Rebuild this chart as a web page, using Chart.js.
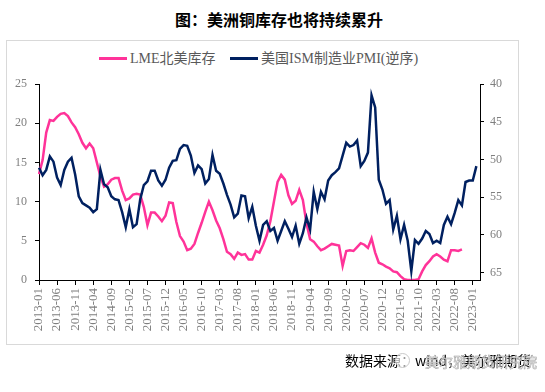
<!DOCTYPE html>
<html>
<head>
<meta charset="utf-8">
<script src="https://cdn.jsdelivr.net/npm/chart.js@4.4.1/dist/chart.umd.min.js"></script>
<style>
  body { margin: 0; width: 545px; height: 392px; background: #fff; position: relative; overflow: hidden; font-family: "Noto Sans CJK SC", sans-serif; }
  #title { position: absolute; left: 175px; top: 9px; font-size: 16px; line-height: 20px; font-weight: bold; color: #000; white-space: nowrap; }
  #frame { position: absolute; left: 6px; top: 40px; width: 511px; height: 303px; border: 1px solid #d9d9d9; }
  .leg { position: absolute; top: 50px; height: 18px; line-height: 18px; font-size: 14px; font-family: "Liberation Serif", "Noto Sans CJK SC", serif; color: #595959; white-space: nowrap; }
  .leg i { display: inline-block; width: 28px; height: 3px; vertical-align: middle; margin-right: 3px; position: relative; top: -1px; }
  #source { position: absolute; left: 345px; top: 351px; font-size: 14px; line-height: 18px; color: #000; white-space: nowrap; }
  #mark { position: absolute; left: 425px; top: 352px; font-size: 14px; line-height: 18px; color: rgba(255,255,255,0.75); -webkit-text-stroke: 0.5px #9a9a9a; white-space: nowrap; }
  #logo { position: absolute; left: 395px; top: 353px; width: 13px; height: 13px; border: 1px solid #c8c8c8; border-radius: 50%; background: rgba(255,255,255,0.6); }
  #c { position: absolute; left: 0; top: 0; }
</style>
</head>
<body>
<div id="title">图：美洲铜库存也将持续累升</div>
<div id="frame"></div>
<div class="leg" style="left:99px"><i style="background:#ff3399"></i>LME北美库存</div>
<div class="leg" style="left:230px"><i style="background:#002060"></i>美国ISM制造业PMI(逆序)</div>
<canvas id="c" width="545" height="392"></canvas>
<div id="source">数据来源：wind，美尔雅期货</div>
<div id="logo"></div>
<div id="mark">美尔雅期货研究院</div>
<script>
// months on the axis: 2013-01 .. 2023-03
const startYear = 2013, monthCount = 123;
const months = [];
for (let k = 0; k < monthCount; k++) {
  const y = startYear + Math.floor(k / 12), m = k % 12 + 1;
  months.push(y + '-' + (m < 10 ? '0' + m : m));
}

// LME 北美铜库存 (万吨), 2013-01 .. 2022-10
const lmeStock = [
  13.5, 15.3, 18.8, 20.4, 20.3, 20.8, 21.2, 21.3, 20.9, 20.1,
  19.5, 18.6, 17.5, 16.8, 17.4, 16.8, 15.0, 13.2, 11.9, 12.2,
  12.8, 13.0, 13.0, 11.4, 10.2, 10.4, 10.9, 11.0, 10.9, 9.3,
  7.0, 8.6, 8.6, 8.1, 7.5, 8.2, 9.9, 9.8, 7.4, 5.6,
  4.9, 3.8, 4.0, 4.6, 6.0, 7.3, 8.7, 10.0, 8.9, 7.6,
  6.6, 5.2, 3.6, 3.3, 2.7, 3.5, 3.2, 3.3, 2.6, 2.6,
  3.7, 3.5, 4.5, 5.7, 7.5, 10.0, 12.5, 13.4, 12.8, 10.8,
  9.7, 10.1, 11.5, 10.2, 7.2, 5.2, 4.9, 4.3, 3.8, 4.0,
  4.3, 4.6, 4.5, 4.4, 1.8, 3.7, 3.8, 3.7, 4.2, 4.7,
  4.5, 4.1, 5.3, 3.5, 2.2, 2.0, 1.7, 1.5, 1.1, 1.0,
  0.5, 0.1, 0, 0, 0, 0.1, 1.1, 1.9, 2.4, 3.0,
  3.3, 3.0, 2.6, 2.4, 3.8, 3.8, 3.7, 3.9
];

// 美国 ISM 制造业 PMI (逆序), 2013-01 .. 2023-02
const ismPmi = [
  51.1, 52.1, 51.4, 49.6, 50.3, 52.4, 53.4, 51.4, 50.3, 49.8,
  52.0, 54.9, 55.8, 56.1, 56.4, 57.0, 56.6, 51.4, 53.3, 53.7,
  54.9, 55.3, 55.4, 57.0, 59.0, 56.6, 59.0, 58.6, 55.3, 53.4,
  52.9, 51.5, 51.5, 52.8, 53.5, 52.7, 51.1, 50.2, 50.1, 48.6,
  48.1, 48.2, 49.5, 51.8, 50.8, 51.3, 53.2, 52.6, 49.4, 51.5,
  51.9, 53.2, 54.7, 56.0, 57.7, 57.2, 54.8, 54.9, 57.8, 56.3,
  58.8, 60.8, 58.7, 58.2, 59.5, 59.1, 60.8, 59.5, 58.2, 59.2,
  60.3, 58.8, 61.2, 59.8, 57.7, 59.3, 54.3, 56.6, 54.3, 55.3,
  52.8, 52.1, 51.7, 51.2, 49.5, 47.8, 48.3, 48.1, 47.5, 50.9,
  50.2, 49.1, 41.5, 43.1, 52.7, 54.0, 55.9, 55.4, 59.3, 57.5,
  60.6, 58.7, 60.8, 64.8, 60.7, 61.2, 60.5, 59.5, 59.9, 61.1,
  60.8, 61.1, 58.7, 57.6, 58.6, 57.1, 55.4, 56.1, 53.0, 52.8,
  52.8, 50.9
];

const leftTicks = [0, 5, 10, 15, 20, 25];
const rightTicks = [40, 45, 50, 55, 60, 65];
const labelStep = 5;
const tickFont = { family: '"Liberation Serif", serif', size: 12 };
const tickGray = '#7f7f7f';

new Chart(document.getElementById('c'), {
  type: 'line',
  data: {
    labels: months,
    datasets: [
      { label: 'LME北美库存', data: lmeStock, borderColor: '#ff3399', backgroundColor: '#ff3399', borderWidth: 2.5, pointRadius: 0, tension: 0, yAxisID: 'y', order: 1 },
      { label: '美国ISM制造业PMI(逆序)', data: ismPmi, borderColor: '#002060', backgroundColor: '#002060', borderWidth: 2.5, pointRadius: 0, tension: 0, yAxisID: 'y1', order: 0 }
    ]
  },
  options: {
    responsive: false, animation: false,
    layout: { padding: { top: 84, left: 0, right: 0, bottom: 0 } },
    plugins: { legend: { display: false }, tooltip: { enabled: false } },
    scales: {
      x: {
        offset: false,
        grid: { drawOnChartArea: false, tickLength: 5, color: '#000' },
        border: { color: '#000', width: 1 },
        ticks: { autoSkip: false, maxRotation: 90, minRotation: 90, padding: 3, color: tickGray, font: { family: '"Liberation Serif", serif', size: 13 } },
        afterBuildTicks: s => { s.ticks = s.ticks.filter(t => t.value % labelStep === 0); },
        afterFit: s => { s.height = 112; }
      },
      y: {
        position: 'left', min: 0, max: 25,
        grid: { drawOnChartArea: false, tickLength: 4, color: '#000' },
        border: { color: '#000', width: 1 },
        ticks: { padding: 8, color: tickGray, font: tickFont },
        afterBuildTicks: s => { s.ticks = leftTicks.map(v => ({ value: v })); },
        afterFit: s => { s.width = 39; }
      },
      y1: {
        position: 'right', min: 40, max: 66, reverse: true,
        grid: { drawOnChartArea: false, tickLength: 4, color: '#000' },
        border: { color: '#000', width: 1 },
        ticks: { padding: 6, color: tickGray, font: tickFont },
        afterBuildTicks: s => { s.ticks = rightTicks.map(v => ({ value: v })); },
        afterFit: s => { s.width = 65; }
      }
    }
  }
});
</script>
</body>
</html>
